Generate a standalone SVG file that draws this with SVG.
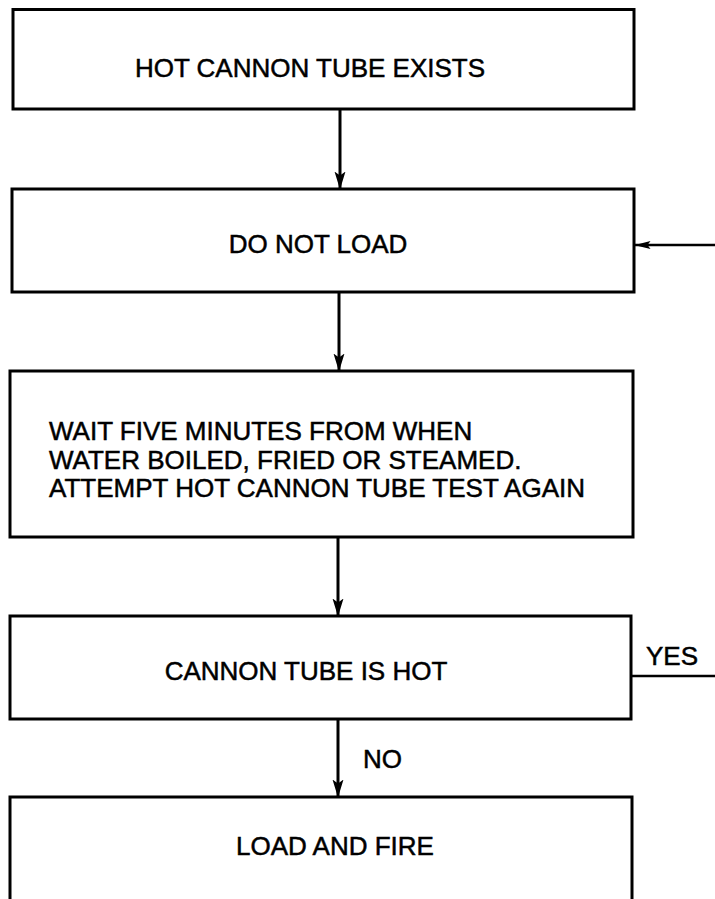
<svg xmlns="http://www.w3.org/2000/svg" width="715" height="899" viewBox="0 0 715 899">
  <style>
    .box { fill: #ffffff; stroke: #000000; stroke-width: 3; }
    .lbl { font-family: "Liberation Sans", Arial, sans-serif; font-size: 26px; fill: #000000; stroke: #000000; stroke-width: 0.5; }
    .mid { text-anchor: middle; }
    .conn { stroke: #000000; stroke-width: 3; fill: none; }
    .thin { stroke: #000000; stroke-width: 2.5; fill: none; }
  </style>
  <defs>
    <marker id="ah" markerUnits="userSpaceOnUse" markerWidth="18" markerHeight="12" refX="17.5" refY="6" orient="auto" viewBox="0 0 18 12">
      <path d="M0,0.5 L18,6 L0,11.5 L4,6 Z" fill="#000000"/>
    </marker>
    <marker id="ahs" markerUnits="userSpaceOnUse" markerWidth="16" markerHeight="10" refX="15.5" refY="5" orient="auto" viewBox="0 0 16 10">
      <path d="M0,1 L16,5 L0,9 L3,5 Z" fill="#000000"/>
    </marker>
  </defs>
  <rect width="715" height="899" fill="#ffffff"/>

  <g id="connectors">
    <line class="conn" x1="340" y1="109" x2="340" y2="189" marker-end="url(#ah)"/>
    <line class="conn" x1="339" y1="292" x2="339" y2="371" marker-end="url(#ah)"/>
    <line class="conn" x1="338" y1="537" x2="338" y2="616" marker-end="url(#ah)"/>
    <line class="conn" x1="338" y1="719" x2="338" y2="797" marker-end="url(#ah)"/>
    <line class="thin" x1="631" y1="676" x2="715" y2="676"/>
    <line class="thin" x1="715" y1="245" x2="635" y2="245" marker-end="url(#ahs)"/>
    <text class="lbl" x="646" y="665">YES</text>
    <text class="lbl" x="363" y="768">NO</text>
  </g>

  <g id="node1">
    <rect class="box" x="13" y="9.5" width="621" height="99.5"/>
    <text class="lbl mid" x="310" y="77">HOT CANNON TUBE EXISTS</text>
  </g>

  <g id="node2">
    <rect class="box" x="12" y="189" width="622" height="103"/>
    <text class="lbl mid" x="318" y="253">DO NOT LOAD</text>
  </g>

  <g id="node3">
    <rect class="box" x="10" y="371" width="623" height="166"/>
    <text class="lbl" x="49" y="440">WAIT FIVE MINUTES FROM WHEN</text>
    <text class="lbl" x="49" y="469">WATER BOILED, FRIED OR STEAMED.</text>
    <text class="lbl" x="49" y="497">ATTEMPT HOT CANNON TUBE TEST AGAIN</text>
  </g>

  <g id="node4">
    <rect class="box" x="10" y="616" width="621" height="103"/>
    <text class="lbl mid" x="306" y="680">CANNON TUBE IS HOT</text>
  </g>

  <g id="node5">
    <rect class="box" x="10" y="797" width="622" height="150"/>
    <text class="lbl mid" x="335" y="855">LOAD AND FIRE</text>
  </g>
</svg>
